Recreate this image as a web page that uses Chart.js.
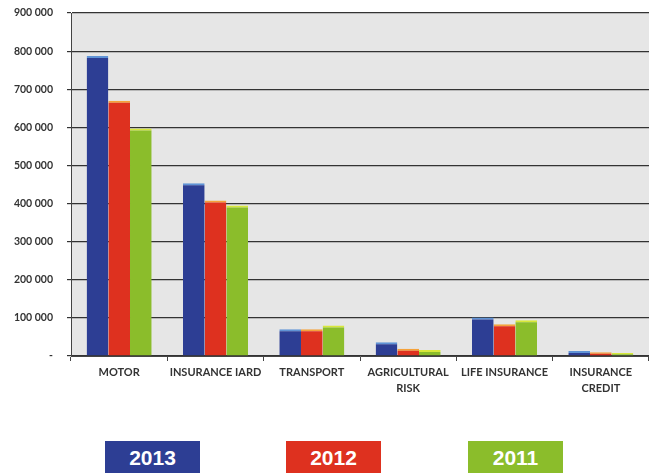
<!DOCTYPE html>
<html>
<head>
<meta charset="utf-8">
<script src="https://cdn.jsdelivr.net/npm/chart.js@4/dist/chart.umd.min.js"></script>
<style>
  html, body { margin: 0; padding: 0; background: #ffffff; width: 649px; height: 473px; overflow: hidden; }
  #wrap { position: absolute; left: 0; top: 0; width: 649px; height: 402px; }
  #legend { position: absolute; left: 0; top: 441px; width: 649px; height: 40px; }
  .lg { position: absolute; top: 0; width: 95px; height: 40px; color: #fff;
        font: bold 21px "Liberation Sans", Arial, sans-serif; text-align: center; line-height: 33px; }
</style>
</head>
<body>
<div id="wrap"><canvas id="c" width="649" height="402"></canvas></div>
<div id="legend"></div>
<script>
const categories = ['MOTOR', 'INSURANCE IARD', 'TRANSPORT', ['AGRICULTURAL', 'RISK'], 'LIFE INSURANCE', ['INSURANCE', 'CREDIT']];
const seriesNames = ['2013', '2012', '2011'];
const values2013 = [787000, 453000, 70000, 36000, 101000, 13000];
const values2012 = [670000, 408000, 70000, 19000, 83000, 10000];
const values2011 = [597000, 395000, 80000, 16000, 94000, 8000];
const yTicks = [0, 100000, 200000, 300000, 400000, 500000, 600000, 700000, 800000, 900000];

const fills = ['#2d3e94', '#de311f', '#8bbd2b'];
const caps = ['#5f93d6', '#f5a23a', '#d8e83a'];
const legendLeft = [105, 286, 468];

const bgPlugin = {
  id: 'plotBg',
  beforeDraw(chart) {
    const a = chart.chartArea, ctx = chart.ctx;
    ctx.save();
    ctx.fillStyle = '#e6e6e6';
    ctx.fillRect(a.left, a.top, a.right - a.left, a.bottom - a.top);
    ctx.restore();
  }
};

const seriesValues = [values2013, values2012, values2011];
const chart = new Chart(document.getElementById('c'), {
  type: 'bar',
  data: {
    labels: categories,
    datasets: seriesNames.map((n, i) => ({
      label: n,
      data: seriesValues[i],
      backgroundColor: fills[i],
      borderColor: caps[i],
      borderWidth: { top: 2, left: 0, right: 0, bottom: 0 },
      borderSkipped: 'bottom',
      barPercentage: 1,
      categoryPercentage: 0.675
    }))
  },
  options: {
    responsive: false,
    animation: false,
    layout: { padding: { top: 13, right: 0, left: 0, bottom: 0 } },
    plugins: { legend: { display: false }, tooltip: { enabled: false } },
    scales: {
      x: {
        afterFit(scale) { scale.height = 46; scale.paddingLeft = 0; scale.paddingRight = 0; scale.paddingTop = 0; scale.paddingBottom = 0; },
        grid: { display: true, drawOnChartArea: false, tickLength: 5, color: '#444', lineWidth: 1 },
        border: { display: true, color: '#444', width: 1 },
        ticks: {
          autoSkip: false, maxRotation: 0, minRotation: 0, color: '#333', padding: 3,
          font: { family: 'Lato', size: 11, weight: 'bold', lineHeight: 1.5 }
        }
      },
      y: {
        min: 0, max: 900000,
        afterBuildTicks(scale) { scale.ticks = yTicks.map(v => ({ value: v })); },
        afterFit(scale) { scale.width = 71; scale.paddingTop = 0; scale.paddingBottom = 0; scale.paddingLeft = 0; scale.paddingRight = 0; },
        grid: { color: '#333333', lineWidth: 1.2, tickLength: 4 },
        border: { display: true, color: '#444', width: 1 },
        ticks: {
          color: '#333', padding: 14,
          font: { family: 'Lato', size: 10.5, weight: 'bold' },
          callback: (v) => v === 0 ? '-' : String(v).replace(/\B(?=(\d{3})+(?!\d))/g, ' ')
        }
      }
    }
  },
  plugins: [bgPlugin]
});

const lg = document.getElementById('legend');
seriesNames.forEach((n, i) => {
  const d = document.createElement('div');
  d.className = 'lg';
  d.style.left = legendLeft[i] + 'px';
  d.style.background = fills[i];
  d.textContent = n;
  lg.appendChild(d);
});
</script>
</body>
</html>
